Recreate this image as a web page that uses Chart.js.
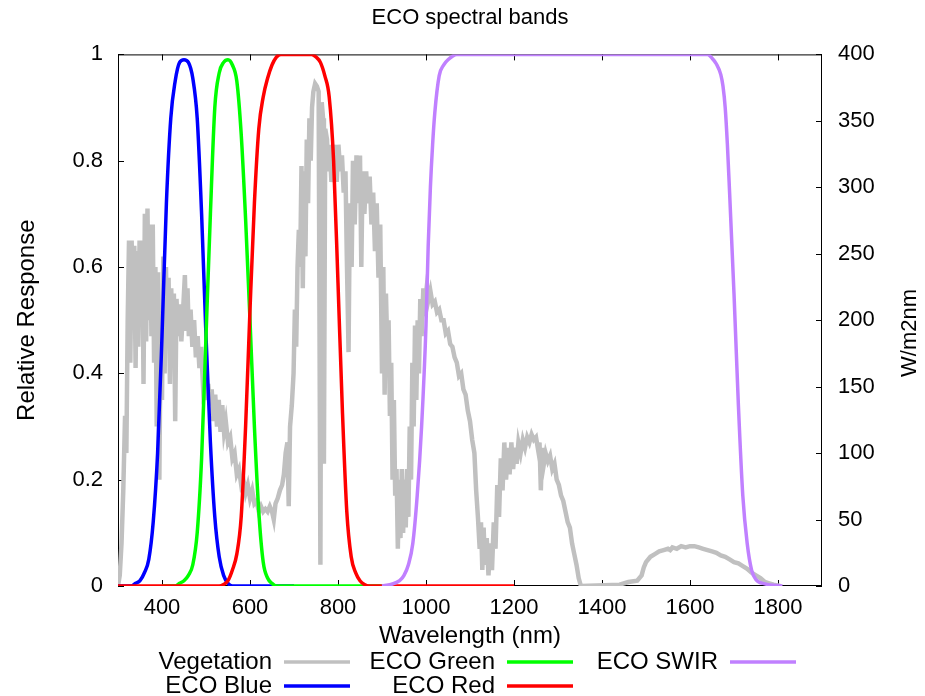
<!DOCTYPE html>
<html>
<head>
<meta charset="utf-8">
<script src="https://cdn.jsdelivr.net/npm/chart.js@4.4.1/dist/chart.umd.min.js"></script>
<style>
  html, body { margin: 0; padding: 0; background: #fff; }
</style>
</head>
<body>
<canvas id="bands" width="925" height="696"></canvas>
<script>
// band responses: [wavelength nm, relative response]
const ecoBlue = [[300,0],[330,0],[340,0.005],[350,0.01],[360,0.025],[370,0.05],[380,0.12],[390,0.25],[400,0.47],[410,0.72],[420,0.88],[430,0.95],[440,0.985],[450,0.99],[460,0.985],[470,0.955],[480,0.88],[490,0.7],[500,0.47],[510,0.27],[520,0.13],[530,0.055],[540,0.02],[550,0.005],[560,0],[700,0]];
const ecoGreen = [[400,0],[430,0],[440,0.005],[450,0.01],[460,0.02],[470,0.04],[480,0.1],[490,0.24],[500,0.47],[510,0.7],[520,0.9],[530,0.965],[540,0.985],[550,0.99],[560,0.98],[570,0.95],[580,0.85],[590,0.69],[600,0.5],[610,0.3],[620,0.14],[630,0.045],[640,0.015],[650,0.005],[660,0],[900,0]];
const ecoRed = [[300,0],[530,0],[540,0.003],[550,0.01],[560,0.03],[570,0.06],[580,0.13],[590,0.3],[600,0.52],[610,0.72],[620,0.86],[630,0.92],[640,0.955],[650,0.98],[660,0.995],[670,1],[740,1],[750,0.995],[760,0.985],[770,0.96],[780,0.92],[790,0.8],[800,0.57],[810,0.33],[820,0.14],[830,0.055],[840,0.025],[850,0.01],[860,0.003],[870,0],[1200,0]];
const ecoSwir = [[900,0],[920,0.003],[940,0.01],[950,0.02],[960,0.04],[970,0.08],[980,0.17],[990,0.3],[1000,0.49],[1005,0.64],[1010,0.75],[1015,0.83],[1020,0.89],[1030,0.96],[1040,0.98],[1050,0.99],[1070,1],[1640,1],[1650,0.993],[1660,0.982],[1670,0.962],[1675,0.94],[1680,0.9],[1685,0.83],[1690,0.74],[1700,0.55],[1710,0.34],[1720,0.17],[1730,0.08],[1740,0.03],[1750,0.012],[1770,0.004],[1810,0]];

// vegetation radiance: [wavelength nm, W/m2nm]
const vegetation = [[300,0],[304,8],[308,32],[312,72],[316,128],[319,100],[322,200],[325,260],[328,168],[331,260],[334,200],[337,256],[340,164],[343,252],[346,180],[349,260],[352,220],[355,260],[358,152],[361,280],[364,184],[367,284],[370,200],[373,272],[376,188],[379,272],[382,168],[385,240],[388,120],[391,236],[394,80],[397,200],[400,140],[403,248],[406,160],[409,240],[412,180],[415,232],[418,152],[421,224],[424,180],[427,220],[430,124],[433,216],[436,188],[440,212],[444,184],[448,208],[452,234],[455,192],[458,224],[461,188],[465,208],[469,180],[473,200],[477,172],[481,188],[485,164],[489,180],[493,152],[497,160],[501,140],[505,152],[509,136],[513,148],[517,124],[521,144],[525,120],[529,140],[533,116],[537,136],[541,116],[545,124],[550,108],[555,112],[560,96],[565,100],[570,84],[575,88],[580,76],[585,80],[590,70],[595,76],[600,66],[605,72],[610,62],[615,64],[620,56],[625,60],[630,56],[635,58],[640,56],[645,60],[650,56],[654,50],[658,62],[663,66],[668,72],[673,76],[677,84],[681,100],[685,108],[688,60],[691,120],[695,136],[699,160],[702,208],[705,180],[708,240],[711,268],[714,240],[717,316],[720,224],[723,312],[726,248],[729,336],[732,288],[735,352],[738,320],[741,360],[744,372],[748,378],[752,376],[756,372],[760,16],[763,364],[766,352],[768,92],[771,344],[775,336],[778,312],[781,332],[785,304],[789,316],[793,332],[797,304],[801,332],[805,312],[809,324],[813,296],[817,312],[820,248],[824,176],[827,288],[831,240],[834,320],[838,272],[842,324],[846,288],[850,324],[853,240],[856,312],[860,280],[864,312],[868,288],[872,308],[876,272],[880,296],[884,252],[888,288],[892,232],[896,272],[900,160],[903,240],[906,144],[909,220],[912,180],[915,200],[918,128],[921,168],[924,80],[927,140],[930,68],[933,88],[936,28],[939,80],[942,36],[945,88],[948,40],[951,80],[954,44],[957,88],[960,52],[963,120],[966,80],[969,168],[972,120],[975,196],[978,140],[981,200],[984,160],[987,216],[990,188],[994,224],[998,214],[1002,226],[1006,216],[1010,222],[1015,212],[1020,214],[1025,206],[1030,208],[1035,200],[1040,200],[1045,190],[1050,192],[1055,182],[1060,180],[1065,172],[1070,168],[1075,158],[1080,160],[1085,148],[1090,144],[1095,132],[1100,124],[1105,110],[1110,100],[1114,72],[1118,52],[1122,28],[1125,48],[1128,12],[1131,44],[1134,16],[1138,36],[1142,8],[1146,32],[1150,12],[1154,48],[1158,28],[1162,76],[1166,52],[1170,96],[1174,72],[1178,108],[1182,80],[1186,104],[1190,84],[1194,108],[1198,88],[1202,104],[1206,92],[1210,108],[1215,100],[1220,110],[1225,104],[1230,112],[1235,108],[1240,114],[1245,110],[1250,112],[1255,102],[1258,108],[1261,72],[1264,104],[1268,92],[1272,100],[1277,94],[1282,98],[1287,88],[1292,92],[1297,80],[1302,76],[1307,68],[1312,64],[1317,56],[1322,48],[1327,44],[1332,32],[1337,24],[1342,16],[1347,6],[1352,0],[1440,1],[1460,3],[1480,4],[1490,8],[1495,14],[1500,18],[1510,22],[1520,24],[1530,26],[1540,27],[1550,28],[1555,27],[1560,29],[1570,28],[1580,30],[1590,29],[1600,30],[1610,30],[1620,29],[1630,28],[1640,27],[1650,26],[1660,25],[1670,23],[1680,22],[1690,20],[1700,18],[1710,17],[1720,15],[1730,13],[1740,10],[1750,8],[1760,6],[1770,3],[1780,2],[1790,1],[1805,0]];

const xTicks = [400, 600, 800, 1000, 1200, 1400, 1600, 1800];
const yTicks = [0, 0.2, 0.4, 0.6, 0.8, 1];
const y2Ticks = [0, 50, 100, 150, 200, 250, 300, 350, 400];

const FONT = "'Liberation Sans', Arial, sans-serif";
const FS = 22;   // ticks, title
const LS = 24;   // axis labels, key
Chart.defaults.font.family = FONT;
Chart.defaults.font.size = FS;
Chart.defaults.color = '#000';

const toXY = rows => rows.map(([x, y]) => ({x, y}));
const line = (label, rows, color, width, axis, order, smooth) => ({
  label, data: toXY(rows), borderColor: color, backgroundColor: color,
  borderWidth: width, pointRadius: 0, fill: false, yAxisID: axis, order,
  cubicInterpolationMode: smooth ? 'monotone' : 'default', tension: smooth ? 0.4 : 0
});
const plain = v => String(v);

// gnuplot-ish box with inward ticks, under the data
const frame = {
  id: 'frame',
  beforeDatasetsDraw(chart) {
    const {ctx, chartArea: a, scales} = chart;
    const t = 6;
    ctx.save();
    ctx.strokeStyle = '#000';
    ctx.lineWidth = 1;
    ctx.strokeRect(a.left + 0.5, a.top + 0.5, a.right - a.left - 1, a.bottom - a.top - 1);
    ctx.beginPath();
    xTicks.forEach(v => {
      const px = Math.round(scales.x.getPixelForValue(v)) + 0.5;
      ctx.moveTo(px, a.bottom); ctx.lineTo(px, a.bottom - t);
      ctx.moveTo(px, a.top); ctx.lineTo(px, a.top + t);
    });
    yTicks.forEach(v => {
      const py = Math.round(scales.y.getPixelForValue(v)) + 0.5;
      ctx.moveTo(a.left, py); ctx.lineTo(a.left + t, py);
    });
    y2Ticks.forEach(v => {
      const py = Math.round(scales.y2.getPixelForValue(v)) + 0.5;
      ctx.moveTo(a.right, py); ctx.lineTo(a.right - t, py);
    });
    ctx.stroke();
    ctx.restore();
  }
};

// key below the x title: text right-aligned, sample after it, filled by column
const key = {
  id: 'key',
  afterDraw(chart) {
    const ctx = chart.ctx;
    ctx.save();
    ctx.font = LS + 'px ' + FONT;
    ctx.textAlign = 'right';
    ctx.textBaseline = 'middle';
    ctx.fillStyle = '#000';
    chart.data.datasets.forEach((ds, i) => {
      const tx = 272 + Math.floor(i / 2) * 223;
      const ty = 662 + (i % 2) * 24;
      ctx.fillText(ds.label, tx, ty);
      ctx.strokeStyle = ds.borderColor;
      ctx.lineWidth = 3.5;
      ctx.beginPath();
      ctx.moveTo(tx + 12, ty);
      ctx.lineTo(tx + 78, ty);
      ctx.stroke();
    });
    // right axis title, reading bottom to top like gnuplot's y2label
    ctx.font = FS + 'px ' + FONT;
    ctx.translate(910, 333);
    ctx.rotate(-Math.PI / 2);
    ctx.textAlign = 'center';
    ctx.fillText('W/m2nm', 0, 0);
    ctx.restore();
  }
};

new Chart(document.getElementById('bands'), {
  type: 'line',
  data: {
    datasets: [
      line('Vegetation', vegetation, '#c0c0c0', 4.5, 'y2', 5, false),
      line('ECO Blue', ecoBlue, '#0000ff', 3.5, 'y', 4, true),
      line('ECO Green', ecoGreen, '#00ff00', 3.5, 'y', 3, true),
      line('ECO Red', ecoRed, '#ff0000', 3.5, 'y', 2, true),
      line('ECO SWIR', ecoSwir, '#c080ff', 3.5, 'y', 1, true)
    ]
  },
  options: {
    responsive: false,
    animation: false,
    devicePixelRatio: 1,
    layout: { padding: 0 },
    plugins: {
      legend: { display: false },
      tooltip: { enabled: false },
      title: {
        display: true, text: 'ECO spectral bands', fullSize: false,
        font: { size: FS, weight: 'normal' }, color: '#000',
        padding: { top: 5, bottom: 23 }
      }
    },
    scales: {
      x: {
        type: 'linear', min: 300, max: 1900,
        afterBuildTicks: s => { s.ticks = xTicks.map(v => ({value: v})); },
        afterFit: s => { s.height = 110; },
        grid: { display: false, drawTicks: false },
        border: { display: false },
        ticks: { padding: 9, maxRotation: 0, autoSkip: false, callback: plain },
        title: { display: true, text: 'Wavelength (nm)', font: { size: LS }, padding: { top: 0, bottom: 45 } }
      },
      y: {
        position: 'left', min: 0, max: 1,
        afterBuildTicks: s => { s.ticks = yTicks.map(v => ({value: v})); },
        afterFit: s => { s.width = 118; },
        grid: { display: false, drawTicks: false },
        border: { display: false },
        ticks: { padding: 15, callback: plain },
        title: { display: true, text: 'Relative Response', font: { size: LS }, padding: { top: 13, bottom: 0 } }
      },
      y2: {
        position: 'right', min: 0, max: 400,
        afterBuildTicks: s => { s.ticks = y2Ticks.map(v => ({value: v})); },
        afterFit: s => { s.width = 103; },
        grid: { display: false, drawTicks: false },
        border: { display: false },
        ticks: { padding: 16, callback: plain }
      }
    }
  },
  plugins: [frame, key]
});
</script>
</body>
</html>
